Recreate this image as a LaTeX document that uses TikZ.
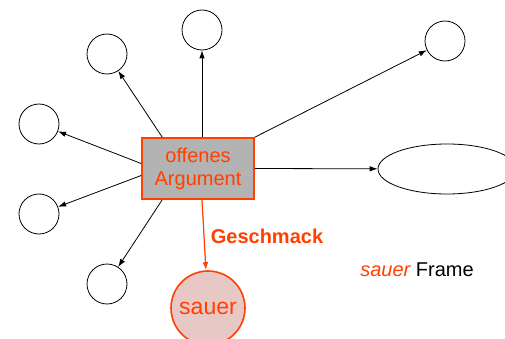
\documentclass[tikz,border=0pt]{standalone}
\usepackage{fontspec}
\setmainfont{Liberation Sans}
\usetikzlibrary{arrows.meta,shapes.geometric}
\definecolor{rot}{RGB}{255,64,0}
\definecolor{grau}{RGB}{179,179,179}
\definecolor{rosa}{RGB}{232,200,196}
\begin{document}
\begin{tikzpicture}[x=1pt, y=-1pt,
		leer/.style={draw, circle, inner sep=0, minimum size=40pt, line width=0.8pt},
		kante/.style={-{Latex[length=8pt,width=5.5pt]}, line width=0.8pt},
		schrift/.style={font=\fontsize{20}{23}\selectfont}]
			\useasboundingbox (0,0) rectangle (505,339);
			% offenes Argument in der Mitte
			\node[draw=rot, fill=grau, line width=1.6pt, minimum width=112pt, minimum height=61pt, align=center, text=rot, schrift] (arg) at (198,168.5) {offenes\\Argument};
			% leere Werte ringsum
			\node[leer] (obenmitte) at (202,30) {};
			\node[leer] (obenlinks) at (107,54) {};
			\node[leer] (linksoben) at (39,124) {};
			\node[leer] (linksunten) at (39,214) {};
			\node[leer] (untenlinks) at (107,284) {};
			\node[leer] (rechtsoben) at (445,41) {};
			\node[draw, ellipse, inner sep=0, minimum width=138pt, minimum height=50pt, line width=0.8pt] (oval) at (447,169) {};
			\node[draw=rot, fill=rosa, circle, line width=1.6pt, inner sep=0, minimum size=74pt, text=rot, font=\fontsize{23}{26}\selectfont] (sauer) at (208,308) {sauer};
			\draw[kante] ([xshift=4pt]arg.north) -- (obenmitte);
			\draw[kante] ([xshift=21pt]arg.north west) -- (obenlinks);
			\draw[kante] ([yshift=5pt]arg.west) -- (linksoben);
			\draw[kante] ([yshift=-7pt]arg.west) -- (linksunten);
			\draw[kante] ([xshift=21pt]arg.south west) -- (untenlinks);
			\draw[kante] (arg.north east) -- (rechtsoben);
			\draw[kante] (arg.east) -- (oval);
			\draw[kante, draw=rot, fill=rot, line width=1.2pt] ([xshift=4pt]arg.south) -- (sauer);
			\node[text=rot, font=\fontsize{20}{23}\selectfont\bfseries] (geschmack) at (267,236) {Geschmack};
			\node[schrift] (frame) at (417,270) {\textcolor{rot}{\itshape sauer} Frame};
		\end{tikzpicture}
\end{document}
